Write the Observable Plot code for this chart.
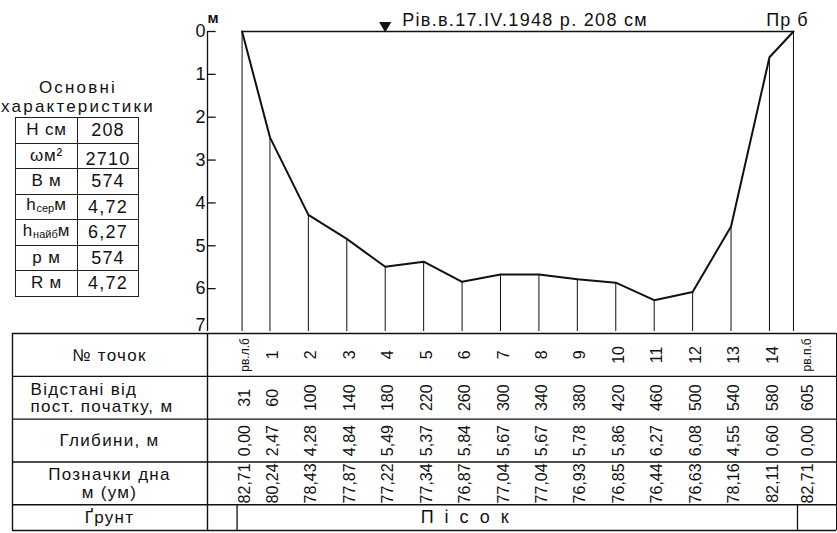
<!DOCTYPE html>
<html><head><meta charset="utf-8">
<script src="https://cdn.jsdelivr.net/npm/d3@7"></script>
<script src="https://cdn.jsdelivr.net/npm/@observablehq/plot@0.6"></script>
<style>
body{margin:0;background:#fff;font-family:"Liberation Sans",Arial,sans-serif;color:#111;}
#wrap{position:relative;width:837px;height:533px;overflow:hidden;background:#fff;}
#chart,#table{position:absolute;left:0;}
#chart{top:0;z-index:2;} #table{top:332px;z-index:1;}
#chars-title{position:absolute;left:-14px;width:184px;top:78px;text-align:center;font-size:17px;line-height:19px;letter-spacing:2.2px;}
#chars{position:absolute;left:15px;top:117px;border-collapse:collapse;}
#chars tr{height:25.5px;}
#chars td{border:1.5px solid #222;padding:0;line-height:16px;text-align:center;}
#chars td.n{width:61px;font-size:17px;letter-spacing:0.8px;}
#chars td.v{width:60px;font-size:18px;letter-spacing:1.2px;}
#chars tr:nth-child(2) td.v{padding-top:7px;line-height:14px;}
#chars sub{font-size:11px;vertical-align:-2px;letter-spacing:0;}
</style></head><body>
<div id="wrap">
<div id="chart"></div>
<div id="table"></div>
<div id="chars-title"></div>
<table id="chars"></table>
</div>
<script>
// ---- data ----
const pointLabels = ["рв.л.б","1","2","3","4","5","6","7","8","9","10","11","12","13","14","рв.п.б"];
const distances = [31,60,100,140,180,220,260,300,340,380,420,460,500,540,580,605];
const depths = [0.00,2.47,4.28,4.84,5.49,5.37,5.84,5.67,5.67,5.78,5.86,6.27,6.08,4.55,0.60,0.00];
const elevations = [82.71,80.24,78.43,77.87,77.22,77.34,76.87,77.04,77.04,76.93,76.85,76.44,76.63,78.16,82.11,82.71];
const depthTicks = [0,1,2,3,4,5,6,7];
const rowLabels = ["№ точок","Відстані від\nпост. початку, м","Глибини, м","Позначки дна\nм (ум)","Ґрунт"];
const rowBounds = [0,1,2,3,4,4.6];
const soilLabel = "Пісок";
const waterLevelTitle = "Рів.в.17.IV.1948 р. 208 см";
const bankLabel = "Пр б";
const waterMarkPoint = 180;
const charTitle = ["Основні","характеристики"];
const charSymbols = ["H","ω","B","h","h","p","R"];
const charSubs = ["","","","сер","найб","",""];
const charUnits = [" см","м²"," м","м","м"," м"," м"];
const charValues = ["208","2710","574","4,72","6,27","574","4,72"];

const pts = distances.map((d,i)=>({label: pointLabels[i], dist: d, depth: depths[i], elev: elevations[i]}));
const comma = v => v.toFixed(2).replace(".", ",");
const font = "Liberation Sans, Arial, sans-serif";
const xScale = {domain: [-5, 630]};
const last = distances.length - 1;

function spaceOut(svg, strings, spacing) {
  svg.querySelectorAll("text").forEach(t => {
    const s = t.textContent;
    if (strings.some(x => x.replace(/\n/g, "") === s)) t.style.letterSpacing = spacing;
  });
}

// ---- profile chart ----
const chart = Plot.plot({
  width: 837, height: 332,
  marginLeft: 207, marginRight: 20, marginTop: 31, marginBottom: 1,
  style: {fontFamily: font, color: "#111", background: "transparent", overflow: "visible"},
  x: {...xScale, axis: null},
  y: {domain: [0, 7], reverse: true, axis: null},
  marks: [
    Plot.ruleY([0], {x1: distances[0], x2: distances[last], stroke: "#111", strokeWidth: 1.3}),
    Plot.ruleX(pts, {x: "dist", y1: "depth", y2: 7, stroke: "#111", strokeWidth: 1}),
    Plot.line(pts, {x: "dist", y: "depth", stroke: "#111", strokeWidth: 2}),
    Plot.ruleX([-5], {y1: 0, y2: 7, stroke: "#111", strokeWidth: 1.3}),
    Plot.ruleY(depthTicks.slice(0, -1), {x1: -5, x2: 4, stroke: "#111", strokeWidth: 1.3}),
    Plot.axisY(depthTicks.slice(0, -1), {anchor: "left", tickSize: 0, tickPadding: 2, label: null, fontSize: 18}),
    Plot.axisY(depthTicks.slice(-1), {anchor: "left", tickSize: 0, tickPadding: 2, label: null, fontSize: 18, dy: -6}),
    Plot.text(["м"], {frameAnchor: "top-left", dy: -19, fontSize: 15, fontWeight: "bold"}),
    Plot.dot([waterMarkPoint], {x: d => d, y: 0, dy: -6, symbol: "triangle", r: 4.5, fill: "#111", stroke: null, rotate: 180}),
    Plot.text([waterLevelTitle], {x: waterMarkPoint, y: 0, dx: 17, dy: -11, textAnchor: "start", fontSize: 18}),
    Plot.text([bankLabel], {x: distances[last], y: 0, dx: 15, dy: -11, textAnchor: "end", fontSize: 18})
  ]
});
spaceOut(chart, [waterLevelTitle], "1.3px");
spaceOut(chart, [bankLabel], "1px");
document.getElementById("chart").append(chart);

// ---- data table ----
const rowCenters = rowBounds.slice(0, -1).map((b, i) => (b + rowBounds[i+1]) / 2);
const rows = rowLabels.map((t, i) => ({t, y: rowCenters[i]}));
const inner = pts.slice(0, -1), rightBank = pts.slice(-1);
const columnTexts = (data, dx) => [
  Plot.text(data, {x: "dist", y: rowCenters[0], text: "label", rotate: -90, dx,
    fontSize: d => d.label.length > 2 ? 12 : 16}),
  Plot.text(data, {x: "dist", y: rowCenters[1], text: d => String(d.dist), rotate: -90, dx, fontSize: 16}),
  Plot.text(data, {x: "dist", y: rowCenters[2], text: d => comma(d.depth), rotate: -90, dx, fontSize: 16}),
  Plot.text(data, {x: "dist", y: rowCenters[3], text: d => comma(d.elev), rotate: -90, dx, fontSize: 16})
];
const table = Plot.plot({
  width: 837, height: 201,
  marginLeft: 207, marginRight: 20, marginTop: 1, marginBottom: 3,
  style: {fontFamily: font, color: "#111", background: "transparent"},
  x: {...xScale, axis: null},
  y: {domain: [0, 4.6], reverse: true, axis: null},
  marks: [
    Plot.ruleY(rowBounds, {x1: -208, x2: 650, stroke: "#111", strokeWidth: 1.4}),
    Plot.ruleX([-208, -5, 650], {y1: 0, y2: 4.6, stroke: "#111", strokeWidth: 1.4}),
    Plot.ruleX([distances[0]], {y1: 4, y2: 4.6, dx: -5, stroke: "#111", strokeWidth: 1.3}),
    Plot.ruleX([distances[last]], {y1: 4, y2: 4.6, dx: 4, stroke: "#111", strokeWidth: 1.3}),
    ...columnTexts(inner, 3),
    ...columnTexts(rightBank, 14),
    Plot.text(rows.filter((r, i) => i !== 1), {y: "y", text: "t", frameAnchor: "left", dx: -98, textAnchor: "middle", fontSize: 17, lineHeight: 1.05}),
    Plot.text(rows.filter((r, i) => i === 1), {y: "y", text: "t", frameAnchor: "left", dx: -177, textAnchor: "start", fontSize: 17, lineHeight: 1.05}),
    Plot.text([soilLabel], {x: distances[5], y: rowCenters[4], dx: -3, textAnchor: "start", fontSize: 18})
  ]
});
spaceOut(table, rowLabels, "1.3px");
spaceOut(table, [soilLabel], "11px");
document.getElementById("table").append(table);

// ---- characteristics ----
document.getElementById("chars-title").innerHTML = charTitle.join("<br>");
const tb = document.getElementById("chars");
charSymbols.forEach((s, i) => {
  const tr = document.createElement("tr");
  const n = document.createElement("td"); n.className = "n";
  n.innerHTML = s + (charSubs[i] ? "<sub>" + charSubs[i] + "</sub>" : "") + charUnits[i];
  const v = document.createElement("td"); v.className = "v"; v.textContent = charValues[i];
  tr.append(n, v); tb.append(tr);
});
</script>
</body></html>
